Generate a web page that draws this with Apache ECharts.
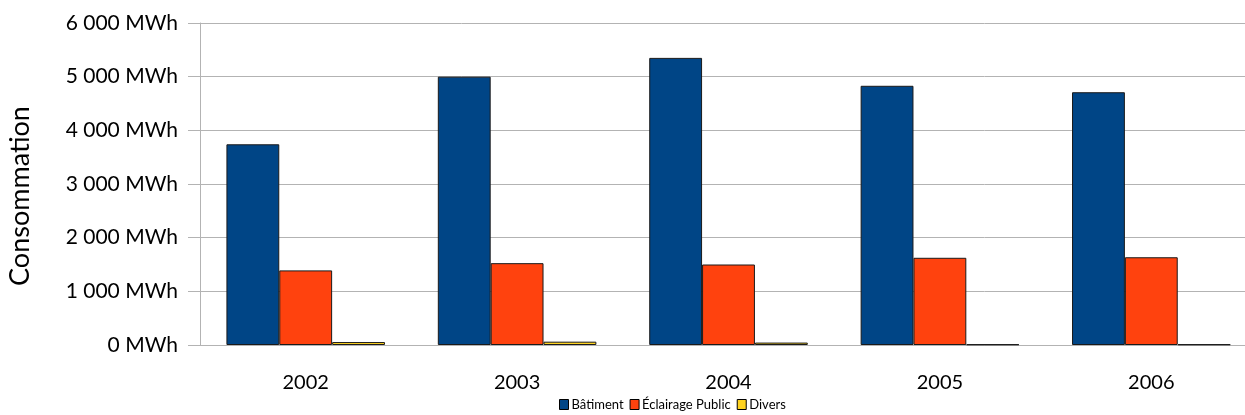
<!DOCTYPE html>
<html><head><meta charset="utf-8">
<script src="https://cdn.jsdelivr.net/npm/echarts@6/dist/echarts.min.js"></script>
<style>html,body{margin:0;padding:0;background:#fff}#c{width:1245px;height:415px}</style>
</head><body><div id="c"></div>
<script>
const categories = ['2002','2003','2004','2005','2006'];
const batiment = [3740, 5000, 5350, 4830, 4710];
const eclairage = [1390, 1525, 1500, 1625, 1635];
const divers = [55, 62, 45, 12, 12];
const seriesNames = ['Bâtiment','Éclairage Public','Divers'];
const yTicks = [0,1000,2000,3000,4000,5000,6000];

const FONT = 'Lato';
function fmt(v){ return String(v).replace(/\B(?=(\d{3})+(?!\d))/g,' ') + ' MWh'; }
const colors = ['#004586','#ff420e','#ffd320'];
const chart = echarts.init(document.getElementById('c'));
const mk = (name, data, i) => ({
  name, type:'bar', data, barGap:'0%', barCategoryGap:'25%',
  itemStyle:{color:colors[i], borderColor:'#1a1a1a', borderWidth:1},
  animation:false
});
chart.setOption({
  animation:false,
  textStyle:{fontFamily:FONT},
  grid:{left:200, top:23, width:1057, height:322, containLabel:false, outerBoundsMode:'none'},
  legend:{
    data:seriesNames, left:554, top:395, padding:[3,5,3,5], itemWidth:9, itemHeight:10, itemGap:6,
    icon:'rect',
    itemStyle:{borderColor:'#000', borderWidth:1},
    textStyle:{fontSize:13, color:'#000', fontFamily:FONT, padding:[0,0,0,-2]}
  },
  xAxis:{
    type:'category', data:categories,
    axisLine:{lineStyle:{color:'#b3b3b3', width:1}},
    axisTick:{alignWithLabel:true, length:11, lineStyle:{color:'#b3b3b3'}},
    axisLabel:{fontSize:20, color:'#000', margin:28, fontFamily:FONT}
  },
  yAxis:{
    type:'value', min:yTicks[0], max:yTicks[yTicks.length-1], interval:1000,
    name:'Consommation', nameLocation:'middle', nameGap:166, nameRotate:90,
    nameTextStyle:{fontSize:27, color:'#000', fontFamily:FONT, padding:[0,24,0,0]},
    axisLine:{show:true, lineStyle:{color:'#b3b3b3'}},
    axisTick:{show:true, length:12, lineStyle:{color:'#b3b3b3'}},
    splitLine:{lineStyle:{color:'#b3b3b3'}},
    axisLabel:{fontSize:21, color:'#000', margin:22, formatter:fmt, fontFamily:FONT}
  },
  series:[mk(seriesNames[0],batiment,0), mk(seriesNames[1],eclairage,1), mk(seriesNames[2],divers,2)]
});
</script></body></html>
